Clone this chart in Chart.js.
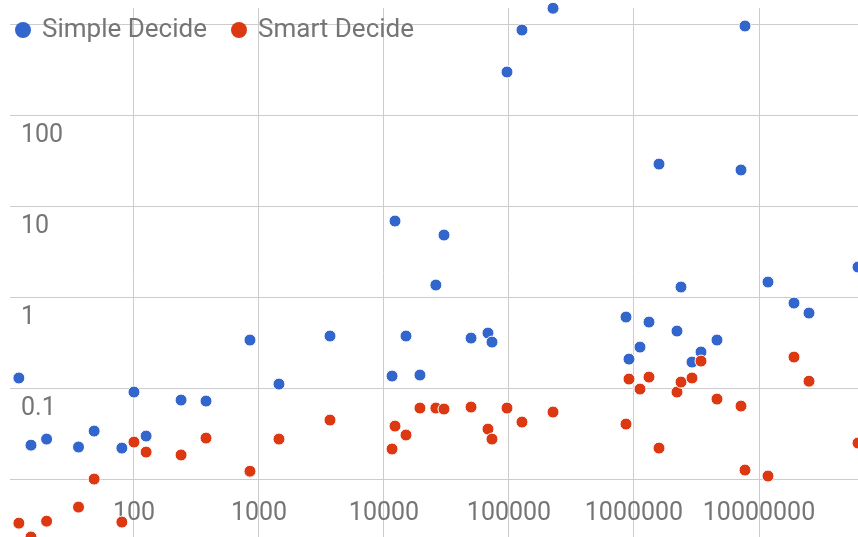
<!DOCTYPE html>
<html>
<head>
<meta charset="utf-8">
<script src="https://cdn.jsdelivr.net/npm/chart.js@4.4.0/dist/chart.umd.min.js"></script>
<style>
    html, body { margin: 0; padding: 0; background: #fff; }
    #wrap { position: relative; width: 858px; height: 537px; overflow: hidden; }
    #scatter-chart { position: absolute; left: 0; top: 0; }
    #legend { position: absolute; left: 0; top: 0; font-family: Roboto, sans-serif; font-size: 26px; color: #757575; }
    #legend .dot { position: absolute; top: 21.5px; width: 16px; height: 16px; border-radius: 50%; }
    #legend .label { position: absolute; top: 15px; line-height: 26px; white-space: nowrap; }
</style>
</head>
<body>
<div id="wrap">
    <canvas id="scatter-chart" width="858" height="537"></canvas>
    <div id="legend"></div>
</div>
<script>
// input size (x) for each run
const sizes = [12, 15, 20, 36, 48, 80, 100, 125, 238, 377, 847, 1445, 3700, 11600, 12250, 15000,
    19400, 26000, 30200, 49700, 67900, 73100, 96400, 127000, 225000, 863000, 912000, 1117000,
    1318000, 1585000, 2208000, 2377000, 2911000, 3436000, 4613000, 7178000, 7727000, 11800000,
    19050000, 25120000, 61940000];

const simpleDecide = [0.129, 0.0236, 0.0275, 0.0225, 0.0337, 0.0219, 0.0904, 0.0297, 0.0738, 0.072,
    0.337, 0.1106, 0.373, 0.1355, 6.84, 0.373, 0.139, 1.355, 4.8, 0.354, 0.402, 0.32, 297, 859, 1490,
    0.603, 0.208, 0.282, 0.531, 28.9, 0.423, 1.288, 0.193, 0.249, 0.337, 24.9, 951, 1.462, 0.859,
    0.667, 2.137];

const smartDecide = [0.00328, 0.00231, 0.00345, 0.00492, 0.01, 0.00337, 0.0255, 0.0198, 0.0184, 0.0282,
    0.0122, 0.0275, 0.0445, 0.0214, 0.0382, 0.0305, 0.0603, 0.0603, 0.0588, 0.0618, 0.0354, 0.0275,
    0.0603, 0.0423, 0.0545, 0.0402, 0.1256, 0.0975, 0.132, 0.0219, 0.0904, 0.1164, 0.129, 0.198,
    0.0757, 0.0634, 0.01256, 0.0108, 0.219, 0.119, 0.0249];

const seriesNames = ['Simple Decide', 'Smart Decide'];
const seriesColors = ['#3366cc', '#dc3912'];

const xTicks = [100, 1000, 10000, 100000, 1000000, 10000000];
const xTickLabels = ['100', '1000', '10000', '100000', '1000000', '10000000'];
const yTicks = [0.01, 0.1, 1, 10, 100, 1000];
const yTickLabels = ['', '0.1', '1', '10', '100', ''];

const xRange = [10.19, 61940000];
const yRange = [0.00231, 1500];

let scatterChart;

function makeSeries(values) {
    return sizes.map((x, i) => ({ x: x, y: values[i] }));
}

function createScatterChart() {
    const ctx = document.getElementById('scatter-chart').getContext('2d');
    Chart.defaults.font.family = 'Roboto, sans-serif';

    const datasets = [simpleDecide, smartDecide].map((values, i) => ({
        label: seriesNames[i],
        data: makeSeries(values),
        pointRadius: 6,
        pointBackgroundColor: seriesColors[i],
        pointBorderColor: '#ffffff',
        pointBorderWidth: 1,
        order: 1 - i,
        clip: false
    }));

    scatterChart = new Chart(ctx, {
        type: 'scatter',
        data: { datasets: datasets },
        options: {
            responsive: false,
            animation: false,
            events: [],
            layout: {
                autoPadding: false,
                padding: { left: 10, top: 8, right: 0, bottom: 0 }
            },
            plugins: {
                legend: { display: false },
                tooltip: { enabled: false }
            },
            scales: {
                x: {
                    type: 'logarithmic',
                    min: xRange[0],
                    max: xRange[1],
                    border: { display: false },
                    grid: { color: '#cccccc', drawTicks: false },
                    ticks: {
                        mirror: true,
                        padding: 8,
                        autoSkip: false,
                        maxRotation: 0,
                        minRotation: 0,
                        color: '#757575',
                        font: { size: 25 },
                        callback: (value, index) => xTickLabels[index]
                    },
                    afterBuildTicks: (scale) => {
                        scale.ticks = xTicks.map(v => ({ value: v }));
                    },
                    afterFit: (scale) => {
                        scale.height = 0;
                        scale.paddingLeft = 0;
                        scale.paddingRight = 0;
                    }
                },
                y: {
                    type: 'logarithmic',
                    min: yRange[0],
                    max: yRange[1],
                    border: { display: false },
                    grid: { color: '#cccccc', drawTicks: false },
                    ticks: {
                        mirror: true,
                        padding: 11,
                        labelOffset: 21,
                        autoSkip: false,
                        color: '#757575',
                        font: { size: 25 },
                        callback: (value, index) => yTickLabels[index]
                    },
                    afterBuildTicks: (scale) => {
                        scale.ticks = yTicks.map(v => ({ value: v }));
                    },
                    afterFit: (scale) => {
                        scale.width = 0;
                        scale.paddingTop = 0;
                        scale.paddingBottom = 0;
                    }
                }
            }
        }
    });
}

function buildLegend() {
    // legend sits over the plot area like the original, so it is kept out of the chart layout
    const legend = document.getElementById('legend');
    const dotLeft = [15, 230.5];
    const textLeft = [42, 258];
    scatterChart.data.datasets.forEach((ds, i) => {
        const dot = document.createElement('span');
        dot.className = 'dot';
        dot.style.left = dotLeft[i] + 'px';
        dot.style.background = ds.pointBackgroundColor;
        const label = document.createElement('span');
        label.className = 'label';
        label.style.left = textLeft[i] + 'px';
        label.textContent = ds.label;
        legend.appendChild(dot);
        legend.appendChild(label);
    });
}

createScatterChart();
buildLegend();
</script>
</body>
</html>
